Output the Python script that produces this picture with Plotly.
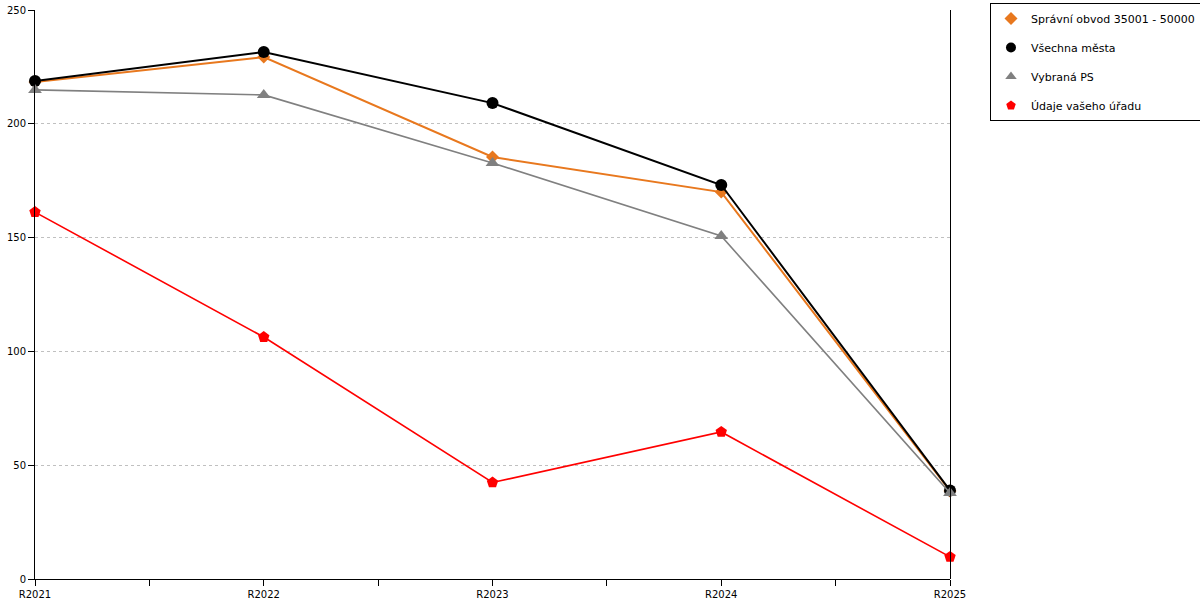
import plotly.graph_objects as go

# data
years = ['R2021', 'R2022', 'R2023', 'R2024', 'R2025']
spravni_obvod = [218.4, 229.3, 185.4, 170.0, 38.7]
vsechna_mesta = [218.8, 231.5, 209.1, 173.1, 38.9]
vybrana_ps = [214.9, 212.7, 182.8, 150.7, 37.8]
vas_urad = [161.2, 106.3, 42.4, 64.6, 9.7]

series = [
	('Správní obvod 35001 - 50000', spravni_obvod, '#e8781e', 'diamond', 10, 2),
	('Všechna města', vsechna_mesta, '#000000', 'circle', 12, 2),
	('Vybraná PS', vybrana_ps, '#808080', 'triangle-up', 12, 1.6),
	('Údaje vašeho úřadu', vas_urad, '#ff0000', 'pentagon', 12, 1.6),
]

xpos = list(range(len(years)))

fig = go.Figure()

# drawing order: orange, black, gray, red
for name, vals, col, sym, sz, lw in series:
	fig.add_trace(go.Scatter(
		x=xpos, y=vals, mode='lines+markers', name=name,
		line={'color': col, 'width': lw},
		marker={'color': col, 'symbol': sym, 'size': sz},
		showlegend=False, cliponaxis=False, hoverinfo='skip'
	))

# legend entries: marker only, no line
for i, (name, vals, col, sym, sz, lw) in enumerate(series):
	fig.add_trace(go.Scatter(
		x=[None], y=[None], mode='markers', name=name,
		marker={'color': col, 'symbol': sym, 'size': 10},
		legendgroup='g%d' % i
	))

tickvals = []
ticktext = []
for i, y in enumerate(years):
	tickvals.append(i)
	ticktext.append(y)
	if i < len(years) - 1:
		tickvals.append(i + 0.5)
		ticktext.append('')

fig.update_layout(
	width=1200, height=600,
	margin=dict(l=35, r=250, t=10, b=21, autoexpand=False),
	plot_bgcolor='white', paper_bgcolor='white',
	font=dict(family='DejaVu Sans, Verdana, sans-serif', size=10, color='black'),
	xaxis=dict(
		range=[0, 4], tickvals=tickvals, ticktext=ticktext,
		showgrid=False, zeroline=False, automargin=False,
		showline=True, linecolor='black', linewidth=1,
		ticks='outside', ticklen=6, tickcolor='black',
		tickfont=dict(size=10)
	),
	yaxis=dict(
		range=[0, 250], dtick=50, automargin=False,
		showgrid=True, gridcolor='#c0c0c0', griddash='dot', gridwidth=1,
		zeroline=False,
		showline=True, linecolor='black', linewidth=1,
		ticks='outside', ticklen=6, tickcolor='black',
		tickfont=dict(size=10)
	),
	legend=dict(
		x=1.0437, y=1.0123, xanchor='left', yanchor='top',
		bordercolor='black', borderwidth=1, bgcolor='white',
		font=dict(size=11), traceorder='grouped', tracegroupgap=10
	),
	# right border line, nudged half a pixel so it renders crisp
	shapes=[dict(type='line', xref='paper', yref='paper', x0=1.00055, x1=1.00055, y0=0, y1=1,
		line=dict(color='black', width=1))]
)

# page has a default 8px body margin, drop it so the figure sits at 0,0
fig.write_html("out.html", config={'displayModeBar': False},
	post_script="document.body.style.margin='0';document.body.style.overflow='hidden';")
